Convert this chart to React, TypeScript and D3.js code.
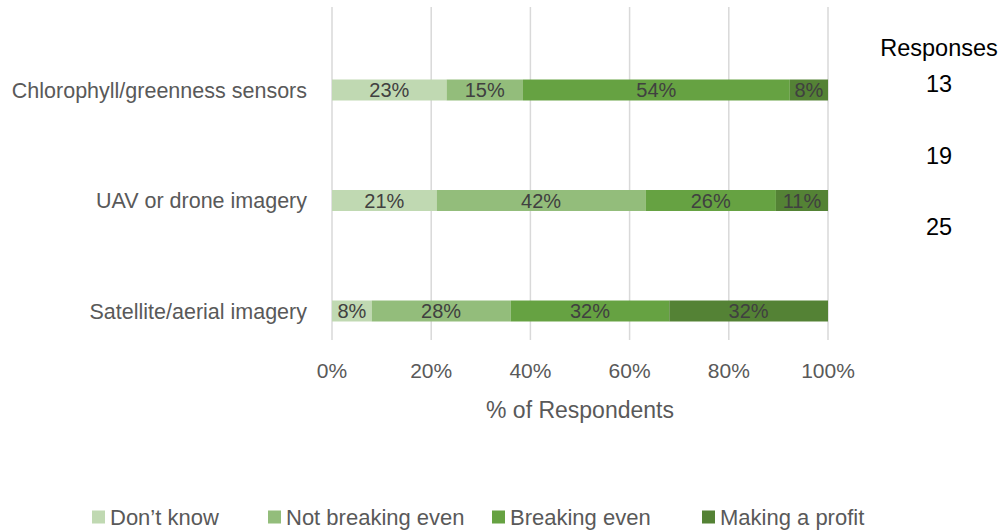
import React, { useEffect, useRef } from 'react';
import * as d3 from 'd3';

// survey categories (top to bottom) and the share of each answer
const categories = ['Chlorophyll/greenness sensors', 'UAV or drone imagery', 'Satellite/aerial imagery'];
const seriesNames = ['Don\u2019t know', 'Not breaking even', 'Breaking even', 'Making a profit'];
const dontKnow = [23.1, 21.1, 8];
const notBreakingEven = [15.4, 42.1, 28];
const breakingEven = [53.8, 26.3, 32];
const makingProfit = [7.7, 10.5, 32];
const responses = [13, 19, 25];
const xTicks = [0, 20, 40, 60, 80, 100];
const colors = ['#c0d9b2', '#93bd7b', '#66a242', '#548235'];

const FONT = '"Liberation Sans", Arial, sans-serif';

export default function App() {
  const svgRef = useRef<SVGSVGElement>(null);
  const width = 1005;
  const height = 531;

  useEffect(() => {
    if (!svgRef.current) return;
    const svg = d3.select(svgRef.current);
    svg.selectAll('*').remove();

    const margin = { top: 7, left: 332, right: 177, bottom: 191 };
    const innerW = width - margin.left - margin.right;
    const innerH = height - margin.top - margin.bottom;

    const rows = categories.map((c, i) => ({
      cat: c,
      values: [dontKnow[i], notBreakingEven[i], breakingEven[i], makingProfit[i]],
    }));

    const x = d3.scaleLinear().domain([0, 100]).range([0, innerW]);
    // bars sit a little below the centre of each band, as in the original
    const y = d3.scaleBand().domain(categories).range([27.75, 359.25]).paddingInner(0.81).paddingOuter(0.405);

    const g = svg.append('g').attr('transform', `translate(${margin.left},${margin.top})`);

    // gridlines
    g.selectAll('.grid')
      .data(xTicks)
      .enter()
      .append('line')
      .attr('x1', d => x(d))
      .attr('x2', d => x(d))
      .attr('y1', 0)
      .attr('y2', innerH)
      .attr('stroke', '#d9d9d9')
      .attr('stroke-width', 1.5);

    // stacked bars
    rows.forEach(row => {
      let acc = 0;
      const segs = row.values.map((v, k) => {
        const s = { start: acc, v, k };
        acc += v;
        return s;
      });
      const rg = g.append('g');
      rg.selectAll('rect')
        .data(segs)
        .enter()
        .append('rect')
        .attr('x', d => x(d.start))
        .attr('y', y(row.cat)!)
        .attr('width', d => x(d.start + d.v) - x(d.start))
        .attr('height', y.bandwidth())
        .attr('fill', d => colors[d.k]);
      rg.selectAll('text')
        .data(segs)
        .enter()
        .append('text')
        .attr('x', d => x(d.start + d.v / 2))
        .attr('y', y(row.cat)! + y.bandwidth() / 2)
        .attr('dy', '0.36em')
        .attr('text-anchor', 'middle')
        .style('font-family', FONT)
        .style('font-size', '20px')
        .style('fill', '#404040')
        .text(d => `${Math.round(d.v)}%`);
    });

    // category labels
    g.selectAll('.cat')
      .data(categories)
      .enter()
      .append('text')
      .attr('x', -25)
      .attr('y', d => y(d)! + y.bandwidth() / 2)
      .attr('dy', '0.36em')
      .attr('text-anchor', 'end')
      .style('font-family', FONT)
      .style('font-size', '21.5px')
      .style('fill', '#595959')
      .text(d => d);

    // tick labels
    g.selectAll('.tick')
      .data(xTicks)
      .enter()
      .append('text')
      .attr('x', d => x(d))
      .attr('y', innerH + 30)
      .attr('dy', '0.36em')
      .attr('text-anchor', 'middle')
      .style('font-family', FONT)
      .style('font-size', '21px')
      .style('fill', '#595959')
      .text(d => `${d}%`);

    // axis title
    g.append('text')
      .attr('x', innerW / 2)
      .attr('y', innerH + 70)
      .attr('dy', '0.36em')
      .attr('text-anchor', 'middle')
      .style('font-family', FONT)
      .style('font-size', '23px')
      .style('fill', '#595959')
      .text('% of Respondents');

    // responses column
    svg.append('text')
      .attr('x', 939)
      .attr('y', 48)
      .attr('dy', '0.36em')
      .attr('text-anchor', 'middle')
      .style('font-family', FONT)
      .style('font-size', '23.5px')
      .style('fill', '#000')
      .text('Responses');
    svg.selectAll('.resp')
      .data(responses)
      .enter()
      .append('text')
      .attr('x', 939)
      .attr('y', (_, i) => 84 + i * 71.5)
      .attr('dy', '0.36em')
      .attr('text-anchor', 'middle')
      .style('font-family', FONT)
      .style('font-size', '23.5px')
      .style('fill', '#000')
      .text(d => d);

    // legend
    const legendX = [92, 268, 492, 702];
    const legend = svg.append('g').attr('transform', 'translate(0,517)');
    seriesNames.forEach((name, i) => {
      const item = legend.append('g').attr('transform', `translate(${legendX[i]},0)`);
      item.append('rect').attr('x', 0).attr('y', -6.5).attr('width', 13).attr('height', 13).attr('fill', colors[i]);
      item.append('text')
        .attr('x', 18)
        .attr('y', 0)
        .attr('dy', '0.36em')
        .style('font-family', FONT)
        .style('font-size', '22px')
        .style('fill', '#595959')
        .text(name);
    });
  }, []);

  return (
    <svg
      ref={svgRef}
      width={width}
      height={height}
      style={{ position: 'absolute', left: 0, top: 0, background: '#fff' }}
    />
  );
}
